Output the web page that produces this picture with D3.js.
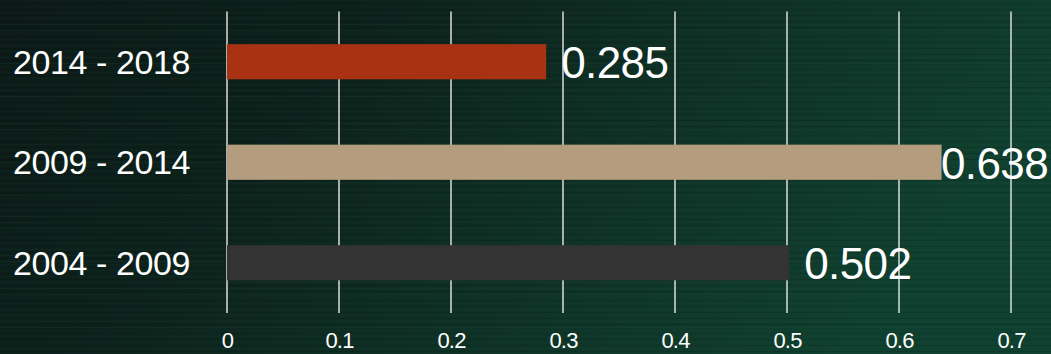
<!DOCTYPE html>
<html>
<head>
<meta charset="utf-8">
<script src="https://cdn.jsdelivr.net/npm/d3@7"></script>
<style>
  html, body { margin: 0; padding: 0; background: #0d1c19; }
  svg { display: block; }
  text { font-family: "Liberation Sans", Arial, sans-serif; fill: #ffffff; }
</style>
</head>
<body>
<svg id="chart" width="1051" height="354"></svg>
<script>
const categories = ["2014 - 2018", "2009 - 2014", "2004 - 2009"];
const values = [0.285, 0.638, 0.502];
const barColors = ["#a83212", "#b39d7e", "#333333"];
const tickValues = [0, 0.1, 0.2, 0.3, 0.4, 0.5, 0.6, 0.7];
const tickLabels = ["0", "0.1", "0.2", "0.3", "0.4", "0.5", "0.6", "0.7"];

const W = 1051, H = 354;
const svg = d3.select("#chart");
const defs = svg.append("defs");

// background gradient
const grad = defs.append("linearGradient").attr("id", "bg")
  .attr("x1", "0%").attr("y1", "0%").attr("x2", "100%").attr("y2", "30%");
grad.append("stop").attr("offset", "0%").attr("stop-color", "#0c1a17");
grad.append("stop").attr("offset", "35%").attr("stop-color", "#0d221c");
grad.append("stop").attr("offset", "70%").attr("stop-color", "#0f3327");
grad.append("stop").attr("offset", "100%").attr("stop-color", "#10402f");
svg.append("rect").attr("width", W).attr("height", H).attr("fill", "url(#bg)");

// subtle horizontal streak texture
const streaks = svg.append("g").attr("opacity", 0.18);
for (let y = 0; y < H; y += 3) {
  const k = (y * 37) % 11;
  streaks.append("rect")
    .attr("x", 0).attr("y", y).attr("width", W).attr("height", 1)
    .attr("fill", k % 2 ? "#000000" : "#2a5a48")
    .attr("opacity", 0.3 + (k / 11) * 0.7);
}

const x = d3.scaleLinear().domain([0, 0.7]).range([227, 1011]);
const y = d3.scaleBand().domain(categories).range([11.5, 313])
  .paddingInner(0.65).paddingOuter(0.325);

// gridlines
const grid = svg.append("g");
grid.selectAll("line").data(tickValues).join("line")
  .attr("x1", d => x(d)).attr("x2", d => x(d))
  .attr("y1", 11.5).attr("y2", 313)
  .attr("stroke", "#dcdcdc").attr("stroke-width", 1.5);

// x axis labels
const xAxis = d3.axisBottom(x).tickValues(tickValues)
  .tickFormat((d, i) => tickLabels[i]).tickSize(0).tickPadding(0);
const ax = svg.append("g").attr("transform", "translate(0,332)").call(xAxis);
ax.select(".domain").remove();
ax.selectAll("text").attr("font-size", 22).attr("letter-spacing", "-0.8px")
  .attr("fill", "#ffffff").attr("dy", "0.71em")
  .style("font-family", "'Liberation Sans', Arial, sans-serif");

// y axis labels
const yAxis = d3.axisLeft(y).tickSize(0).tickPadding(0);
const ay = svg.append("g").attr("transform", "translate(190,0)").call(yAxis);
ay.select(".domain").remove();
ay.selectAll("text").attr("font-size", 34).attr("letter-spacing", "-0.4px")
  .attr("fill", "#ffffff").attr("dy", "0.35em")
  .style("font-family", "'Liberation Sans', Arial, sans-serif");

// bars
svg.append("g").selectAll("rect").data(values).join("rect")
  .attr("x", x(0))
  .attr("y", (d, i) => y(categories[i]))
  .attr("width", d => x(d) - x(0))
  .attr("height", y.bandwidth())
  .attr("fill", (d, i) => barColors[i]);

// value labels
const vl = svg.append("g").selectAll("text").data(values).join("text")
  .attr("font-size", 44).attr("letter-spacing", "-0.6px")
  .attr("dy", "0.35em")
  .attr("y", (d, i) => y(categories[i]) + y.bandwidth() / 2 + 1)
  .text(d => d3.format(".3f")(d));
vl.each(function(d) {
  const w = this.getComputedTextLength();
  const pos = Math.min(x(d) + 15, W - 3 - w);
  d3.select(this).attr("x", pos);
});
</script>
</body>
</html>
